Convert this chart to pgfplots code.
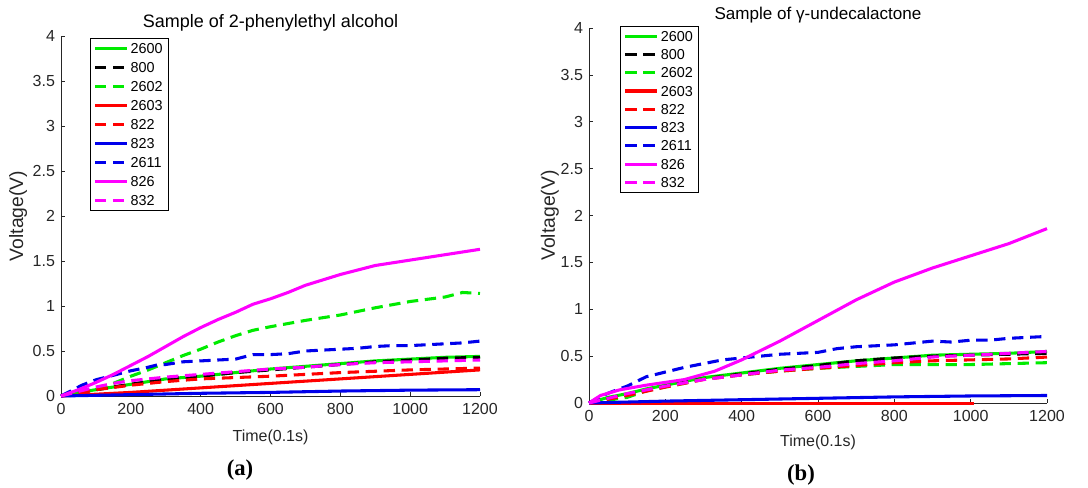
\documentclass[border=0pt]{standalone}
\usepackage{fontspec}
\setmainfont{Liberation Sans}
\newfontfamily\capfont{Liberation Serif}
\usepackage{pgfplots}
\pgfplotsset{compat=1.18}
\definecolor{mgreen}{RGB}{0,235,0}
\definecolor{mblue}{RGB}{0,0,235}
\definecolor{mred}{RGB}{255,0,0}
\definecolor{mmag}{RGB}{255,0,255}
\definecolor{axgray}{RGB}{38,38,38}
\pgfplotsset{
  mstyle/.style={
    scale only axis,
    xmin=0, xmax=1200, ymin=0, ymax=4,
    xtick={0,200,...,1200},
    ytick={0,0.5,...,4},
    axis x line*=bottom, axis y line*=left,
    axis line style={draw=axgray, line width=0.5pt, -},
    tick align=inside,
    major tick length=3pt,
    tick style={draw=axgray, line width=0.5pt},
    clip=false,
    /pgf/number format/assume math mode=true,
    /pgf/number format/set thousands separator={},
    ticklabel style={font=\fontsize{12}{14}\selectfont, text=axgray},
    xticklabel style={yshift=-2pt},
    yticklabel style={xshift=-1pt},
    xlabel style={font=\fontsize{12}{14}\selectfont, text=axgray},
    ylabel style={font=\fontsize{14.5}{16}\selectfont, text=axgray},
    title style={text=black, anchor=center, yshift=-6pt},
    legend style={draw=black, line width=0.5pt, fill=white,
      font=\fontsize{10.8}{12}\selectfont,
      inner xsep=2.5pt, inner ysep=2pt,
      nodes={inner sep=1.5pt, text height=7.6pt, text depth=0pt}},
    legend cell align=left,
    legend image code/.code={\draw[#1] (0pt,0pt) -- (24pt,0pt);},
  },
  sol/.style={solid, line width=2.3pt},
  das/.style={dash pattern=on 8.5pt off 5pt, line width=2.3pt},
}
\begin{document}
\begin{tikzpicture}
\path[use as bounding box] (0,0) rectangle (816pt,366pt);
% ---------------- (a)
\begin{axis}[mstyle,
  at={(45.75pt,69pt)}, anchor=south west,
  width=314.25pt, height=270pt,
  title={Sample of 2-phenylethyl alcohol},
  title style={font=\fontsize{13.5}{15}\selectfont, at={(axis description cs:0.5,1.036)}},
  xlabel={Time(0.1s)},
  xlabel style={at={(axis description cs:0.5,-0.114)}, anchor=center},
  ylabel={Voltage(V)},
  ylabel style={at={(axis description cs:-0.1026,0.5)}, anchor=center},
  legend style={at={(axis description cs:0.069,0.994)}, anchor=north west, row sep=3.7pt},
]
\addplot[mgreen,sol] coordinates {(0,0)(50,0.04)(100,0.07)(150,0.10)(200,0.13)(250,0.16)(300,0.19)(400,0.22)(500,0.26)(600,0.30)(700,0.33)(800,0.36)(900,0.39)(1000,0.41)(1100,0.43)(1200,0.44)};
\addlegendentry{2600}
\addplot[black,das] coordinates {(0,0)(100,0.07)(200,0.13)(300,0.19)(400,0.22)(500,0.26)(600,0.29)(700,0.32)(800,0.35)(900,0.38)(1000,0.40)(1100,0.42)(1200,0.43)};
\addlegendentry{800}
\addplot[mgreen,das] coordinates {(0,0)(50,0.03)(100,0.08)(150,0.14)(200,0.22)(250,0.29)(300,0.37)(350,0.45)(400,0.52)(450,0.60)(500,0.67)(550,0.73)(600,0.77)(700,0.84)(800,0.90)(900,0.98)(1000,1.05)(1100,1.10)(1150,1.15)(1200,1.14)};
\addlegendentry{2602}
\addplot[mred,sol] coordinates {(0,0)(200,0.04)(400,0.09)(600,0.14)(800,0.19)(1000,0.24)(1200,0.29)};
\addlegendentry{2603}
\addplot[mred,das] coordinates {(0,0)(50,0.03)(100,0.07)(200,0.12)(300,0.16)(400,0.19)(600,0.22)(800,0.26)(1000,0.29)(1100,0.30)(1200,0.31)};
\addlegendentry{822}
\addplot[mblue,sol] coordinates {(0,0)(200,0.015)(400,0.03)(600,0.04)(800,0.055)(1000,0.065)(1200,0.07)};
\addlegendentry{823}
\addplot[mblue,das] coordinates {(0,0)(30,0.06)(60,0.12)(100,0.18)(150,0.23)(200,0.28)(250,0.32)(280,0.35)(300,0.35)(350,0.38)(400,0.39)(450,0.40)(500,0.41)(550,0.46)(600,0.46)(650,0.47)(700,0.50)(750,0.51)(800,0.52)(850,0.53)(900,0.55)(950,0.56)(1000,0.56)(1050,0.57)(1100,0.58)(1150,0.59)(1200,0.61)};
\addlegendentry{2611}
\addplot[mmag,sol] coordinates {(0,0)(50,0.07)(100,0.15)(150,0.24)(200,0.34)(250,0.44)(300,0.55)(350,0.66)(400,0.76)(450,0.85)(500,0.93)(550,1.02)(600,1.08)(650,1.15)(700,1.23)(750,1.29)(800,1.35)(850,1.40)(900,1.45)(950,1.48)(1000,1.51)(1050,1.54)(1100,1.57)(1150,1.60)(1200,1.63)};
\addlegendentry{826}
\addplot[mmag,das] coordinates {(0,0)(50,0.05)(100,0.10)(150,0.14)(200,0.17)(300,0.21)(400,0.24)(500,0.27)(600,0.30)(700,0.32)(800,0.35)(900,0.37)(1000,0.38)(1100,0.39)(1200,0.40)};
\addlegendentry{832}
\end{axis}
% ---------------- (b)
\begin{axis}[mstyle,
  at={(441.75pt,63.75pt)}, anchor=south west,
  width=343.5pt, height=281.25pt,
  title={Sample of γ-undecalactone},
  title style={font=\fontsize{12.8}{14}\selectfont, at={(axis description cs:0.5,1.035)}},
  xlabel={Time(0.1s)},
  xlabel style={at={(axis description cs:0.5,-0.104)}, anchor=center},
  ylabel={Voltage(V)},
  ylabel style={at={(axis description cs:-0.0852,0.5)}, anchor=center},
  legend style={at={(axis description cs:0.068,1.005)}, anchor=north west, row sep=3.1pt},
]
\addplot[mgreen,sol] coordinates {(0,0)(50,0.06)(100,0.10)(150,0.15)(200,0.19)(250,0.23)(300,0.27)(400,0.32)(500,0.37)(600,0.41)(700,0.45)(800,0.48)(900,0.51)(1000,0.52)(1100,0.53)(1200,0.55)};
\addlegendentry{2600}
\addplot[black,das] coordinates {(0,0)(50,0.05)(100,0.09)(200,0.18)(300,0.26)(400,0.31)(500,0.36)(600,0.40)(700,0.45)(800,0.48)(900,0.50)(1000,0.51)(1100,0.52)(1200,0.53)};
\addlegendentry{800}
\addplot[mgreen,das] coordinates {(0,0)(50,0.03)(100,0.06)(150,0.13)(200,0.17)(250,0.21)(300,0.26)(400,0.30)(500,0.34)(600,0.37)(700,0.39)(800,0.41)(900,0.41)(1000,0.41)(1100,0.42)(1200,0.43)};
\addlegendentry{2602}
\addplot[mred,sol] coordinates {(0,-0.01)(200,-0.01)(400,-0.01)(600,-0.01)(800,-0.01)(1010,-0.01)};
\addlegendentry{2603}
\addplot[mred,das] coordinates {(0,0)(100,0.08)(200,0.17)(300,0.25)(400,0.30)(500,0.34)(600,0.37)(700,0.40)(800,0.43)(900,0.45)(1000,0.46)(1100,0.47)(1200,0.49)};
\addlegendentry{822}
\addplot[mblue,sol] coordinates {(0,0)(200,0.02)(400,0.035)(600,0.05)(800,0.065)(1000,0.075)(1200,0.08)};
\addlegendentry{823}
\addplot[mblue,das] coordinates {(0,0)(30,0.07)(60,0.12)(100,0.18)(150,0.28)(200,0.33)(250,0.38)(300,0.42)(350,0.46)(400,0.48)(450,0.50)(500,0.52)(550,0.53)(600,0.54)(650,0.58)(700,0.60)(750,0.61)(800,0.62)(850,0.64)(900,0.66)(950,0.65)(1000,0.67)(1050,0.67)(1100,0.69)(1150,0.70)(1200,0.71)};
\addlegendentry{2611}
\addplot[mmag,sol] coordinates {(0,0)(30,0.08)(80,0.14)(150,0.19)(250,0.25)(330,0.34)(400,0.46)(500,0.66)(600,0.88)(700,1.10)(800,1.29)(900,1.44)(1000,1.57)(1100,1.70)(1200,1.86)};
\addlegendentry{826}
\addplot[mmag,das] coordinates {(0,0)(50,0.05)(100,0.10)(200,0.18)(300,0.25)(400,0.30)(500,0.35)(600,0.38)(700,0.42)(800,0.45)(900,0.49)(1000,0.51)(1100,0.53)(1200,0.55)};
\addlegendentry{832}
\end{axis}
\node[font=\capfont\bfseries\fontsize{17}{19}\selectfont] at (180pt,13.5pt) {(a)};
\node[font=\capfont\bfseries\fontsize{17}{19}\selectfont] at (600.75pt,9.75pt) {(b)};
\end{tikzpicture}
\end{document}
